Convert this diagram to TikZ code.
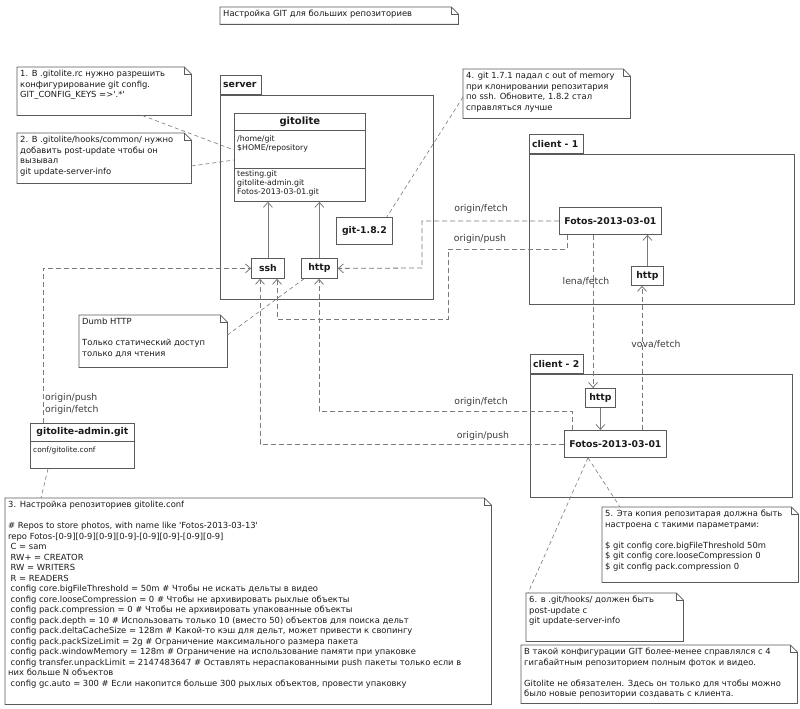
\documentclass[tikz,border=0pt]{standalone}
\usepackage{fontspec}
\setmainfont{DejaVu Sans}
\usetikzlibrary{arrows.meta,calc}
\definecolor{bord}{HTML}{5A5A5A}
\definecolor{lnk}{HTML}{7A7A7A}
\definecolor{txt}{HTML}{1A1A1A}
\tikzset{
  box/.style={draw=bord, fill=white, line width=0.8pt, inner sep=0pt, anchor=north west},
  boldlbl/.style={font=\fontsize{9.3}{11}\selectfont\bfseries, text=txt},
  notetext/.style={font=\fontsize{8.4}{10.5}\selectfont, align=left, inner sep=0pt, anchor=north west, text=txt},
  smalltext/.style={font=\fontsize{7.8}{9}\selectfont, align=left, inner sep=0pt, anchor=north west, text=txt},
  dep/.style={draw=lnk, line width=0.8pt, dash pattern=on 5pt off 3pt, -{Straight Barb[length=5pt,width=9pt]}},
  assoc/.style={draw=lnk, line width=0.8pt, -{Straight Barb[length=5pt,width=9pt]}},
  notelink/.style={draw=lnk, line width=0.6pt, dash pattern=on 4pt off 3pt},
  lbl/.style={font=\fontsize{9.3}{11}\selectfont, text=txt!85, inner sep=0pt},
}
\newcommand{\umlnote}[6]{%
  \node[inner sep=0pt, minimum width=#4pt, minimum height=#5pt, anchor=north west] (#1) at (#2,#3) {};
  \filldraw[draw=bord, fill=white, line width=0.8pt] (#1.north west) -- ([xshift=-7pt]#1.north east) -- ([yshift=-7pt]#1.north east) -- (#1.south east) -- (#1.south west) -- cycle;
  \draw[bord, line width=0.6pt] ([xshift=-7pt]#1.north east) -- ([xshift=-7pt,yshift=-7pt]#1.north east) -- ([yshift=-7pt]#1.north east);
  \node[notetext] (#1-t) at ([xshift=3pt,yshift=-3pt]#1.north west) {#6};
}
\newcommand{\umlpkg}[7]{%
  \node[box, minimum width=#4pt, minimum height=19pt] (#1-tab) at (#2,#3) {};
  \node[boldlbl, anchor=west, inner sep=0pt] (#1-lbl) at ([xshift=3pt]#1-tab.west) {#7};
  \node[box, minimum width=#5pt, minimum height=#6pt] (#1) at (#1-tab.south west) {};
}
\begin{document}
\begin{tikzpicture}[x=1pt,y=-1pt]
\useasboundingbox (0,0) rectangle (800,709);
\fill[white] (0,0) rectangle (800,709);

% packages
\umlpkg{server}{220}{75}{41}{213}{204}{server}
\umlpkg{clienta}{529}{134}{54}{265}{150}{client - 1}
\umlpkg{clientb}{530}{354}{53}{262}{123}{client - 2}

% gitolite class
\node[box, minimum width=131pt, minimum height=88pt] (gitolite) at (234,113) {};
\node[boldlbl, font=\fontsize{10}{12}\selectfont\bfseries] (gitolite-title) at ($(gitolite.north)+(0,9)$) {gitolite};
\draw[bord, line width=0.8pt] ($(gitolite.north west)+(0,17)$) -- ($(gitolite.north east)+(0,17)$);
\draw[bord, line width=0.8pt] ($(gitolite.north west)+(0,55)$) -- ($(gitolite.north east)+(0,55)$);
\node[smalltext] (gitolite-a) at ($(gitolite.north west)+(3,22)$) {/home/git\\\$HOME/repository};
\node[smalltext] (gitolite-b) at ($(gitolite.north west)+(3,57)$) {testing.git\\gitolite-admin.git\\Fotos-2013-03-01.git};

\node[box, boldlbl, minimum width=33pt, minimum height=20pt] (ssh) at (251,258) {ssh};
\node[box, boldlbl, minimum width=36pt, minimum height=20pt] (https) at (301,258) {http};
\node[box, boldlbl, minimum width=56pt, minimum height=27pt] (git) at (336,217) {git-1.8.2};
\node[box, boldlbl, minimum width=102pt, minimum height=27pt] (fotos1) at (559,207) {Fotos-2013-03-01};
\node[box, boldlbl, minimum width=32pt, minimum height=19pt] (http1) at (631,266) {http};
\node[box, boldlbl, minimum width=30pt, minimum height=19pt] (http2) at (585,388) {http};
\node[box, boldlbl, minimum width=102pt, minimum height=27pt] (fotos2) at (564,430) {Fotos-2013-03-01};

% gitolite-admin
\node[box, minimum width=104pt, minimum height=45pt] (admin) at (30,423) {};
\node[boldlbl] (admin-title) at ($(admin.north)+(0,9)$) {gitolite-admin.git};
\draw[bord, line width=0.8pt] ($(admin.north west)+(0,18)$) -- ($(admin.north east)+(0,18)$);
\node[smalltext, font=\fontsize{7.4}{9}\selectfont] (admin-a) at ($(admin.north west)+(3,24)$) {conf/gitolite.conf};

% notes
\umlnote{title}{220}{7}{238}{17}{Настройка GIT для больших репозиториев}
\umlnote{na}{17}{67}{174}{48}{1. В .gitolite.rc нужно разрешить\\конфигурирование git config.\\GIT\_CONFIG\_KEYS =>\textquotesingle.*\textquotesingle}
\umlnote{nb}{17}{133}{174}{50}{2. В .gitolite/hooks/common/ нужно\\добавить post-update чтобы он\\вызывал\\git update-server-info}
\umlnote{nd}{463}{69}{167}{49}{4. git 1.7.1 падал с out of memory\\при клонировании репозитария\\по ssh. Обновите, 1.8.2 стал\\справляться лучше}
\umlnote{dumb}{79}{315}{148}{52}{Dumb HTTP\\[10.5pt]Только статический доступ\\только для чтения}
\umlnote{nc}{5}{498}{486}{206}{3. Настройка репозиториев gitolite.conf\\[10.5pt]\# Repos to store photos, with name like \textquotesingle Fotos-2013-03-13\textquotesingle\\repo Fotos-[0-9][0-9][0-9][0-9]-[0-9][0-9]-[0-9][0-9]\\
\hspace*{2.5pt}C = sam\\
\hspace*{2.5pt}RW+ = CREATOR\\
\hspace*{2.5pt}RW = WRITERS\\
\hspace*{2.5pt}R = READERS\\
\hspace*{2.5pt}config core.bigFileThreshold = 50m \# Чтобы не искать дельты в видео\\
\hspace*{2.5pt}config core.looseCompression = 0 \# Чтобы не архивировать рыхлые объекты\\
\hspace*{2.5pt}config pack.compression = 0 \# Чтобы не архивировать упакованные объекты\\
\hspace*{2.5pt}config pack.depth = 10 \# Использовать только 10 (вместо 50) объектов для поиска дельт\\
\hspace*{2.5pt}config pack.deltaCacheSize = 128m \# Какой-то кэш для дельт, может привести к свопингу\\
\hspace*{2.5pt}config pack.packSizeLimit = 2g \# Ограничение максимального размера пакета\\
\hspace*{2.5pt}config pack.windowMemory = 128m \# Ограничение на использование памяти при упаковке\\
\hspace*{2.5pt}config transfer.unpackLimit = 2147483647 \# Оставлять нераспакованными push пакеты только если в\\
них больше N объектов\\
\hspace*{2.5pt}config gc.auto = 300 \# Если накопится больше 300 рыхлых объектов, провести упаковку}
\umlnote{ne}{602}{507}{196}{75}{5. Эта копия репозитарая должна быть\\настроена с такими параметрами:\\[10.5pt]\$ git config core.bigFileThreshold 50m\\\$ git config core.looseCompression 0\\\$ git config pack.compression 0}
\umlnote{nf}{526}{593}{157}{48}{6. в .git/hooks/ должен быть\\post-update с\\git update-server-info}
\umlnote{ng}{521}{645}{276}{58}{В такой конфигурации GIT более-менее справлялся с 4\\гигабайтным репозиторием полным фоток и видео.\\[10.5pt]Gitolite не обязателен. Здесь он только для чтобы можно\\было новые репозитории создавать с клиента.}

% solid associations
\draw[assoc] (ssh.north) -- (ssh.north |- gitolite.south);
\draw[assoc] (https.north) -- (https.north |- gitolite.south);
\draw[assoc] (http1.north) -- (http1.north |- fotos1.south);
\draw[assoc] (http2.south) -- (http2.south |- fotos2.north);

% dependencies
\coordinate (fbend) at (422,268);
\draw[dep] (fotos1.west) -| (fbend) -- (https.east);
\node[lbl] (lof1) at (481,209) {origin/fetch};

\coordinate (pa) at (448,249);
\coordinate (pb) at (277,319);
\coordinate (fpush) at ([xshift=8pt]fotos1.south west);
\draw[dep] (fpush) |- (pa) |- (pb) -- (pb |- ssh.south);
\node[lbl] (lop1) at (480,239) {origin/push};

\coordinate (lenaS) at ([xshift=34pt]fotos1.south west);
\draw[dep] (lenaS) -- (lenaS |- http2.north);
\node[lbl] (llena) at (586,281) {lena/fetch};

\coordinate (vovaS) at ([xshift=78pt]fotos2.north west);
\draw[dep] (vovaS) -- (vovaS |- http1.south);
\node[lbl] (lvova) at (656,344) {vova/fetch};

\coordinate (ffetch) at ([xshift=8pt]fotos2.north west);
\coordinate (qa) at (319,411);
\draw[dep] (ffetch) |- (qa) -- (qa |- https.south);
\node[lbl] (lof2) at (481,402) {origin/fetch};

\coordinate (qb) at (260,0);
\draw[dep] (fotos2.west) -| (qb |- ssh.south);
\node[lbl] (lop2) at (483,436) {origin/push};

\coordinate (adm) at ([xshift=13pt]admin.north west);
\draw[dep] (adm) |- (ssh.west);
\node[lbl, anchor=west] (lap) at (45,398) {origin/push};
\node[lbl, anchor=west] (laf) at (45,410) {origin/fetch};

% note links
\draw[notelink] ([xshift=125pt]na.south west) -- ($(gitolite.north west)+(0,37)$);
\draw[notelink] ($(nb.north east)+(0,33)$) -- ($(gitolite.north west)+(0,47)$);
\draw[notelink] ($(nd.north west)+(0,28)$) -- ([xshift=-6pt]git.north east);
\draw[notelink] ($(dumb.north east)+(0,20)$) -- ([xshift=3pt]https.south west);
\draw[notelink] ([xshift=18pt]admin.south west) -- ([xshift=36pt]nc.north west);
\draw[notelink] ([xshift=24pt]fotos2.south west) -- ([xshift=18pt]ne.north west);
\draw[notelink] ([xshift=24pt]fotos2.south west) -- ([xshift=2pt]nf.north west);
\end{tikzpicture}
\end{document}
